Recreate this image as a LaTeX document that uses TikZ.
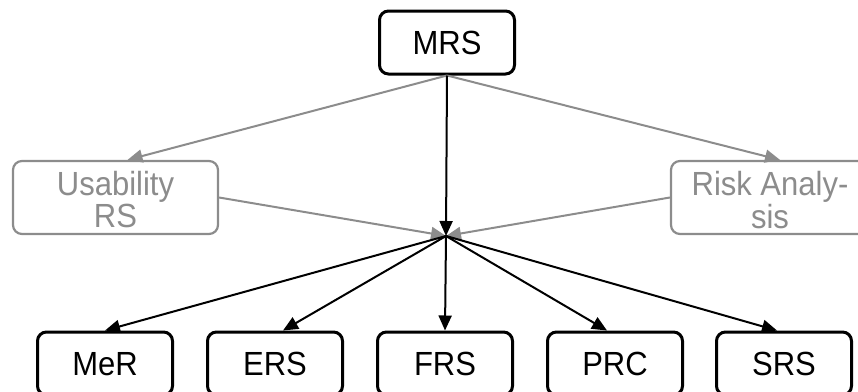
\documentclass[tikz,border=0pt]{standalone}
\usepackage{fontspec}
\usepackage{graphicx}
\setmainfont{Liberation Sans}
\usetikzlibrary{arrows.meta}
\definecolor{softgray}{HTML}{8C8C8C}
% slightly tall lettering
\newcommand{\tallText}[1]{\scalebox{1}[1.08]{#1}}
% two centred lines of tall lettering, baseline on the first line
\newcommand{\tallPair}[2]{\scalebox{1}[1.08]{\begin{tabular}[t]{@{}c@{}}#1\\#2\end{tabular}}}
\tikzset{
  box/.style={draw=black, line width=3pt, rounded corners=9pt, fill=white,
    minimum width=135pt, minimum height=63pt, inner sep=0pt,
    text height=24pt, text depth=0pt,
    font=\fontsize{31}{29}\selectfont},
  greybox/.style={draw=softgray, line width=2.2pt, rounded corners=9pt, fill=white,
    minimum height=73pt, inner sep=0pt, text=softgray,
    text height=9pt, text depth=14pt,
    font=\fontsize{31}{28}\selectfont},
  link/.style={draw=black, line width=2pt, -{Triangle[length=15pt,width=13pt]}},
  greylink/.style={draw=softgray, line width=2pt, -{Triangle[length=15pt,width=13pt]}}
}
\begin{document}
\begin{tikzpicture}[x=1pt,y=-1pt]
\useasboundingbox (0,0) rectangle (858,391);
% top node
\node[box] (mrs) at (447,42.5) {\tallText{MRS}};
% side nodes
\node[greybox, minimum width=205pt] (use) at (115.5,197.5) {\tallPair{Usability}{RS}};
\node[greybox, minimum width=198pt] (risk) at (770,197.5) {\tallPair{Risk Analy-}{sis}};
% bottom row
\node[box] (mer) at (105,363.5) {\tallText{MeR}};
\node[box] (ers) at (275,363.5) {\tallText{ERS}};
\node[box] (frs) at (445,363.5) {\tallText{FRS}};
\node[box] (prc) at (615,363.5) {\tallText{PRC}};
\node[box] (srs) at (784,363.5) {\tallText{SRS}};
% junction
\coordinate (hub) at (446,236);
% grey links
\draw[greylink] (mrs.south) -- ([xshift=12pt]use.north);
\draw[greylink] (mrs.south) -- ([xshift=10pt]risk.north);
\draw[greylink] (use.east) -- (hub);
\draw[greylink] (risk.west) -- (hub);
% black links
\draw[link] (mrs.south) -- (hub);
\draw[link] (hub) -- (mer.north);
\draw[link] (hub) -- ([xshift=8pt]ers.north);
\draw[link] (hub) -- (frs.north);
\draw[link] (hub) -- ([xshift=-8pt]prc.north);
\draw[link] (hub) -- ([xshift=-7pt]srs.north);
\end{tikzpicture}
\end{document}
